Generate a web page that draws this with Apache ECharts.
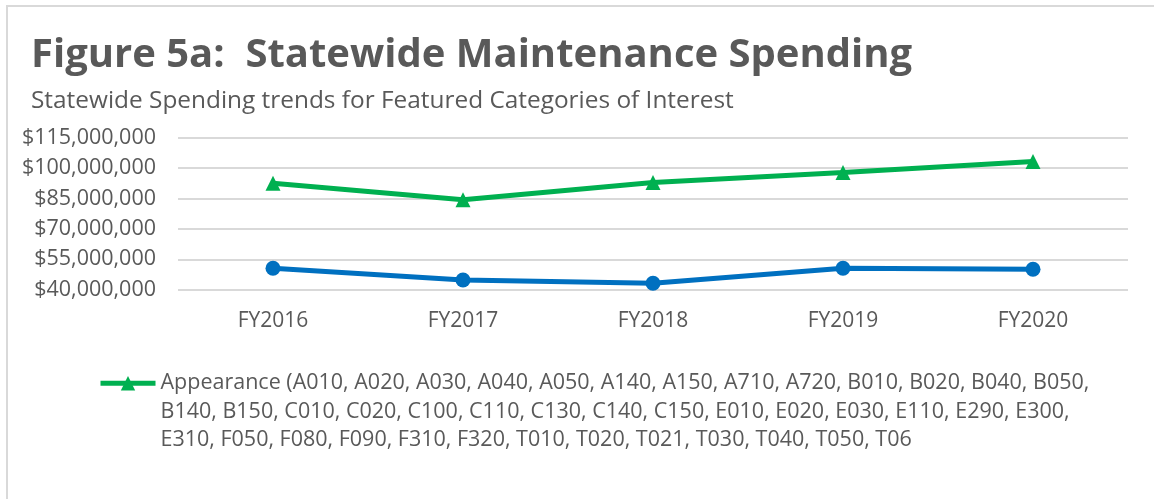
<!DOCTYPE html>
<html>
<head>
<meta charset="utf-8">
<script src="https://cdn.jsdelivr.net/npm/echarts@6/dist/echarts.min.js"></script>
<style>
  html, body { margin: 0; padding: 0; background: #fff; }
  #chart { width: 1154px; height: 499px; }
</style>
</head>
<body>
<div id="chart"></div>
<script>
// 数据
const categories = ['FY2016', 'FY2017', 'FY2018', 'FY2019', 'FY2020']
const appearance = [92500000, 84300000, 92800000, 97700000, 103200000]
const otherSeries = [50600000, 44800000, 43200000, 50600000, 50100000]
const yTicks = [40000000, 55000000, 70000000, 85000000, 100000000, 115000000]
const appearanceName = 'Appearance (A010, A020, A030, A040, A050, A140, A150, A710, A720, B010, B020, B040, B050, B140, B150, C010, C020, C100, C110, C130, C140, C150, E010, E020, E030, E110, E290, E300, E310, F050, F080, F090, F310, F320, T010, T020, T021, T030, T040, T050, T06'
const legendLines = [
  'Appearance (A010, A020, A030, A040, A050, A140, A150, A710, A720, B010, B020, B040, B050,',
  'B140, B150, C010, C020, C100, C110, C130, C140, C150, E010, E020, E030, E110, E290, E300,',
  'E310, F050, F080, F090, F310, F320, T010, T020, T021, T030, T040, T050, T06'
]

const textColor = '#595959'
const font = '"Open Sans", "Noto Sans", sans-serif'

const myChart = echarts.init(document.getElementById('chart'))
myChart.setOption({
  animation: false,
  textStyle: { fontFamily: font },
  graphic: [{
    type: 'rect',
    shape: { x: 7, y: 6, width: 1200, height: 600 },
    style: { fill: 'none', stroke: '#d9d9d9', lineWidth: 2 },
    silent: true
  }],
  title: [{
    text: 'Figure 5a:  Statewide Maintenance Spending',
    left: 26,
    top: 31,
    textStyle: { color: textColor, fontSize: 40, fontWeight: 'bold', fontFamily: font }
  }, {
    text: 'Statewide Spending trends for Featured Categories of Interest',
    left: 26,
    top: 84,
    textStyle: { color: textColor, fontSize: 24.4, fontWeight: 'normal', fontFamily: font }
  }],
  legend: {
    data: [appearanceName],
    left: 98,
    top: 312,
    padding: 0,
    itemWidth: 55,
    itemHeight: 18,
    itemGap: 0,
    lineStyle: { width: 5 },
    // 两个空行让图标对齐第一行
    formatter: () => ['', ''].concat(legendLines).join('\n'),
    textStyle: {
      color: textColor,
      fontSize: 21.5,
      lineHeight: 28.5
    }
  },
  grid: {
    left: 178,
    right: 26,
    top: 137.5,
    bottom: 209.3
  },
  xAxis: {
    type: 'category',
    data: categories,
    boundaryGap: true,
    axisLine: { show: false },
    axisTick: { show: false },
    axisLabel: { color: textColor, fontSize: 21, margin: 21 }
  },
  yAxis: {
    type: 'value',
    min: yTicks[0],
    max: yTicks[yTicks.length - 1],
    interval: yTicks[1] - yTicks[0],
    axisLine: { show: false },
    axisTick: { show: false },
    axisLabel: {
      color: textColor,
      fontSize: 21.5,
      margin: 22,
      formatter: v => '$' + String(v).replace(/\B(?=(\d{3})+(?!\d))/g, ',')
    },
    splitLine: { lineStyle: { color: '#d9d9d9', width: 2 } }
  },
  series: [{
    name: appearanceName,
    type: 'line',
    data: appearance,
    symbol: 'triangle',
    symbolSize: 15,
    color: '#00b050',
    lineStyle: { width: 5, color: '#00b050' },
    itemStyle: { color: '#00b050' }
  }, {
    name: 'Other',
    type: 'line',
    data: otherSeries,
    symbol: 'circle',
    symbolSize: 15,
    color: '#0070c0',
    lineStyle: { width: 5, color: '#0070c0' },
    itemStyle: { color: '#0070c0' }
  }]
})
</script>
</body>
</html>
